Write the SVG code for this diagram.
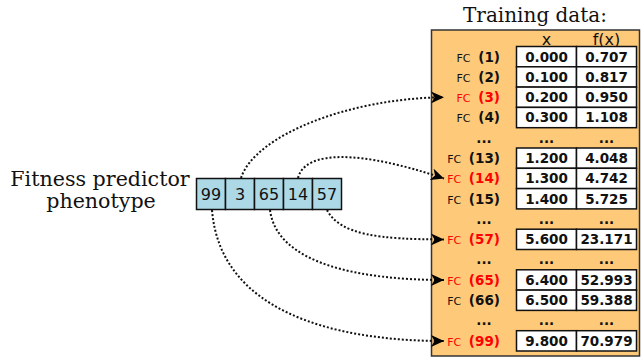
<svg xmlns="http://www.w3.org/2000/svg" width="641" height="360" viewBox="0 0 641 360">
<style>
.title{font-family:"DejaVu Serif",serif;font-size:20px;fill:#111}
.side{font-family:"DejaVu Serif",serif;font-size:20.6px;fill:#111;text-anchor:middle}
.gene{fill:#add8e6;stroke:#111;stroke-width:1.5}
.gt{font-family:"DejaVu Sans",sans-serif;font-size:16px;fill:#111;text-anchor:middle}
.cell{fill:#fff;stroke:#111;stroke-width:1.5}
.v{font-family:"DejaVu Sans",sans-serif;font-size:13.5px;font-weight:bold;fill:#111;text-anchor:middle}
.hd{font-family:"DejaVu Sans",sans-serif;font-size:16px;fill:#111;text-anchor:middle}
.lb{font-family:"DejaVu Sans",sans-serif;fill:#111;text-anchor:end}
.red{fill:#ff0000}
.fc{font-size:11px}
.n{font-size:13.5px;font-weight:bold}
.con{fill:none;stroke:#111;stroke-width:2;stroke-dasharray:2 2}
</style>
<defs>
<marker id="ah" markerUnits="userSpaceOnUse" markerWidth="14" markerHeight="12" viewBox="0 0 14 12" refX="13" refY="6" orient="auto">
<path d="M0,0 L13,6 L0,12 L3.5,6 Z" fill="#000"/>
</marker>
</defs>
<rect width="641" height="360" fill="#fff"/>
<g id="panel">
<rect x="431.5" y="30" width="208" height="326" fill="#fec979" stroke="#333" stroke-width="1.5"/>
<text class="title" x="535" y="22" text-anchor="middle">Training data:</text>
<text class="hd" x="546.5" y="45">x</text>
<text class="hd" x="606.5" y="45">f(x)</text>
</g>
<g id="label">
<text class="side" x="100" y="186">Fitness predictor</text>
<text class="side" x="101" y="208">phenotype</text>
</g>
<g id="genome">
<rect class="gene" x="196.5" y="178.5" width="29" height="31"/>
<rect class="gene" x="225.5" y="178.5" width="29" height="31"/>
<rect class="gene" x="254.5" y="178.5" width="29" height="31"/>
<rect class="gene" x="283.5" y="178.5" width="29" height="31"/>
<rect class="gene" x="312.5" y="178.5" width="29" height="31"/>
<text class="gt" x="211" y="200">99</text>
<text class="gt" x="240" y="200">3</text>
<text class="gt" x="269" y="200">65</text>
<text class="gt" x="298" y="200">14</text>
<text class="gt" x="327" y="200">57</text>
</g>
<g id="table">
<g id="row1"><rect class="cell" x="516.5" y="46.5" width="60" height="20.3"/><rect class="cell" x="576.5" y="46.5" width="60" height="20.3"/>
<text class="lb" x="500" y="61.5"><tspan class="fc">FC</tspan><tspan class="n" dx="3"> (1)</tspan></text><text class="v" x="546.5" y="61.5">0.000</text><text class="v" x="606.5" y="61.5">0.707</text></g>
<g id="row2"><rect class="cell" x="516.5" y="66.8" width="60" height="20.3"/><rect class="cell" x="576.5" y="66.8" width="60" height="20.3"/>
<text class="lb" x="500" y="81.8"><tspan class="fc">FC</tspan><tspan class="n" dx="3"> (2)</tspan></text><text class="v" x="546.5" y="81.8">0.100</text><text class="v" x="606.5" y="81.8">0.817</text></g>
<g id="row3"><rect class="cell" x="516.5" y="87.1" width="60" height="20.3"/><rect class="cell" x="576.5" y="87.1" width="60" height="20.3"/>
<text class="lb red" x="500" y="102.1"><tspan class="fc">FC</tspan><tspan class="n" dx="3"> (3)</tspan></text><text class="v" x="546.5" y="102.1">0.200</text><text class="v" x="606.5" y="102.1">0.950</text></g>
<g id="row4"><rect class="cell" x="516.5" y="107.4" width="60" height="20.3"/><rect class="cell" x="576.5" y="107.4" width="60" height="20.3"/>
<text class="lb" x="500" y="122.4"><tspan class="fc">FC</tspan><tspan class="n" dx="3"> (4)</tspan></text><text class="v" x="546.5" y="122.4">0.300</text><text class="v" x="606.5" y="122.4">1.108</text></g>
<g id="dots1"><text class="v" x="484" y="142.5">...</text><text class="v" x="546.5" y="142.5">...</text><text class="v" x="606.5" y="142.5">...</text></g>
<g id="row13"><rect class="cell" x="516.5" y="148" width="60" height="20.3"/><rect class="cell" x="576.5" y="148" width="60" height="20.3"/>
<text class="lb" x="500" y="163"><tspan class="fc">FC</tspan><tspan class="n" dx="3"> (13)</tspan></text><text class="v" x="546.5" y="163">1.200</text><text class="v" x="606.5" y="163">4.048</text></g>
<g id="row14"><rect class="cell" x="516.5" y="168.3" width="60" height="20.3"/><rect class="cell" x="576.5" y="168.3" width="60" height="20.3"/>
<text class="lb red" x="500" y="183.3"><tspan class="fc">FC</tspan><tspan class="n" dx="3"> (14)</tspan></text><text class="v" x="546.5" y="183.3">1.300</text><text class="v" x="606.5" y="183.3">4.742</text></g>
<g id="row15"><rect class="cell" x="516.5" y="188.6" width="60" height="20.3"/><rect class="cell" x="576.5" y="188.6" width="60" height="20.3"/>
<text class="lb" x="500" y="203.6"><tspan class="fc">FC</tspan><tspan class="n" dx="3"> (15)</tspan></text><text class="v" x="546.5" y="203.6">1.400</text><text class="v" x="606.5" y="203.6">5.725</text></g>
<g id="dots2"><text class="v" x="484" y="223.7">...</text><text class="v" x="546.5" y="223.7">...</text><text class="v" x="606.5" y="223.7">...</text></g>
<g id="row57"><rect class="cell" x="516.5" y="229.2" width="60" height="20.3"/><rect class="cell" x="576.5" y="229.2" width="60" height="20.3"/>
<text class="lb red" x="500" y="244.2"><tspan class="fc">FC</tspan><tspan class="n" dx="3"> (57)</tspan></text><text class="v" x="546.5" y="244.2">5.600</text><text class="v" x="606.5" y="244.2">23.171</text></g>
<g id="dots3"><text class="v" x="484" y="264.3">...</text><text class="v" x="546.5" y="264.3">...</text><text class="v" x="606.5" y="264.3">...</text></g>
<g id="row65"><rect class="cell" x="516.5" y="269.8" width="60" height="20.3"/><rect class="cell" x="576.5" y="269.8" width="60" height="20.3"/>
<text class="lb red" x="500" y="284.8"><tspan class="fc">FC</tspan><tspan class="n" dx="3"> (65)</tspan></text><text class="v" x="546.5" y="284.8">6.400</text><text class="v" x="606.5" y="284.8">52.993</text></g>
<g id="row66"><rect class="cell" x="516.5" y="290.1" width="60" height="20.3"/><rect class="cell" x="576.5" y="290.1" width="60" height="20.3"/>
<text class="lb" x="500" y="305.1"><tspan class="fc">FC</tspan><tspan class="n" dx="3"> (66)</tspan></text><text class="v" x="546.5" y="305.1">6.500</text><text class="v" x="606.5" y="305.1">59.388</text></g>
<g id="dots4"><text class="v" x="484" y="325.2">...</text><text class="v" x="546.5" y="325.2">...</text><text class="v" x="606.5" y="325.2">...</text></g>
<g id="row99"><rect class="cell" x="516.5" y="330.7" width="60" height="20.3"/><rect class="cell" x="576.5" y="330.7" width="60" height="20.3"/>
<text class="lb red" x="500" y="345.7"><tspan class="fc">FC</tspan><tspan class="n" dx="3"> (99)</tspan></text><text class="v" x="546.5" y="345.7">9.800</text><text class="v" x="606.5" y="345.7">70.979</text></g>
</g>
<g id="connectors">
<path class="con" d="M241,178 C255,135 350,98 444,97.3" marker-end="url(#ah)"/>
<path class="con" d="M298,178 C305,150 360,150 444,178.5" marker-end="url(#ah)"/>
<path class="con" d="M327,210 C340,235 380,239.4 444,239.4" marker-end="url(#ah)"/>
<path class="con" d="M270,210 C277,264 360,280 444,280" marker-end="url(#ah)"/>
<path class="con" d="M212,210 C220,310 330,341 444,341" marker-end="url(#ah)"/>
</g>
</svg>
